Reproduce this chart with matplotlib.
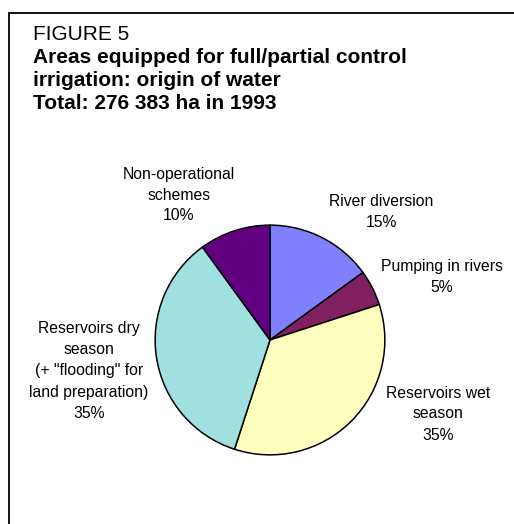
import matplotlib
matplotlib.use("Agg")
import matplotlib.pyplot as plt
from matplotlib.patches import Rectangle

W, H = 514, 524

TITLE_LINES = [
    "Areas equipped for full/partial control",
    "irrigation: origin of water",
    "Total: 276 383 ha in 1993",
]
CATEGORIES = [
    "River diversion",
    "Pumping in rivers",
    "Reservoirs wet\nseason",
    "Reservoirs dry\nseason\n(+ \"flooding\" for\nland preparation)",
    "Non-operational\nschemes",
]
SHARES = [15, 5, 35, 35, 10]
COLORS = ["#8080FF", "#802060", "#FFFFC0", "#A0E0E0", "#600080"]

# label centres in pixels (x, y from top)
LABEL_POS = [(381, 212), (442, 277), (438, 414), (89, 371), (179, 195)]

plt.rcParams["font.family"] = ["Liberation Sans", "DejaVu Sans"]


def px(x, y):
    return x / W, 1 - y / H


fig = plt.figure(figsize=(W / 100, H / 100), dpi=100)

# frame (open at right and bottom, as in the source page)
fig.patches.append(Rectangle(px(9, 560), 560 / W, 547 / H, transform=fig.transFigure,
                             fill=False, edgecolor="black", linewidth=1.3))

fig.text(*px(33, 40), "FIGURE 5", fontsize=15, va="baseline", ha="left")
for i, line in enumerate(TITLE_LINES):
    fig.text(*px(33, 63 + i * 23), line, fontsize=15, fontweight="bold",
             va="baseline", ha="left")

cx, cy, r = 270, 340, 116
ax = fig.add_axes([(cx - r) / W, (H - cy - r) / H, 2 * r / W, 2 * r / H])
ax.pie(SHARES, colors=COLORS, startangle=90, counterclock=False, radius=1,
       wedgeprops=dict(edgecolor="black", linewidth=1.1))
ax.set_xlim(-1.01, 1.01)
ax.set_ylim(-1.01, 1.01)
ax.axis("off")

for name, share, (x, y) in zip(CATEGORIES, SHARES, LABEL_POS):
    fig.text(*px(x, y), f"{name}\n{share}%", fontsize=11.3, ha="center", va="center",
             multialignment="center", linespacing=1.5)

fig.savefig("out.png", dpi=100)
